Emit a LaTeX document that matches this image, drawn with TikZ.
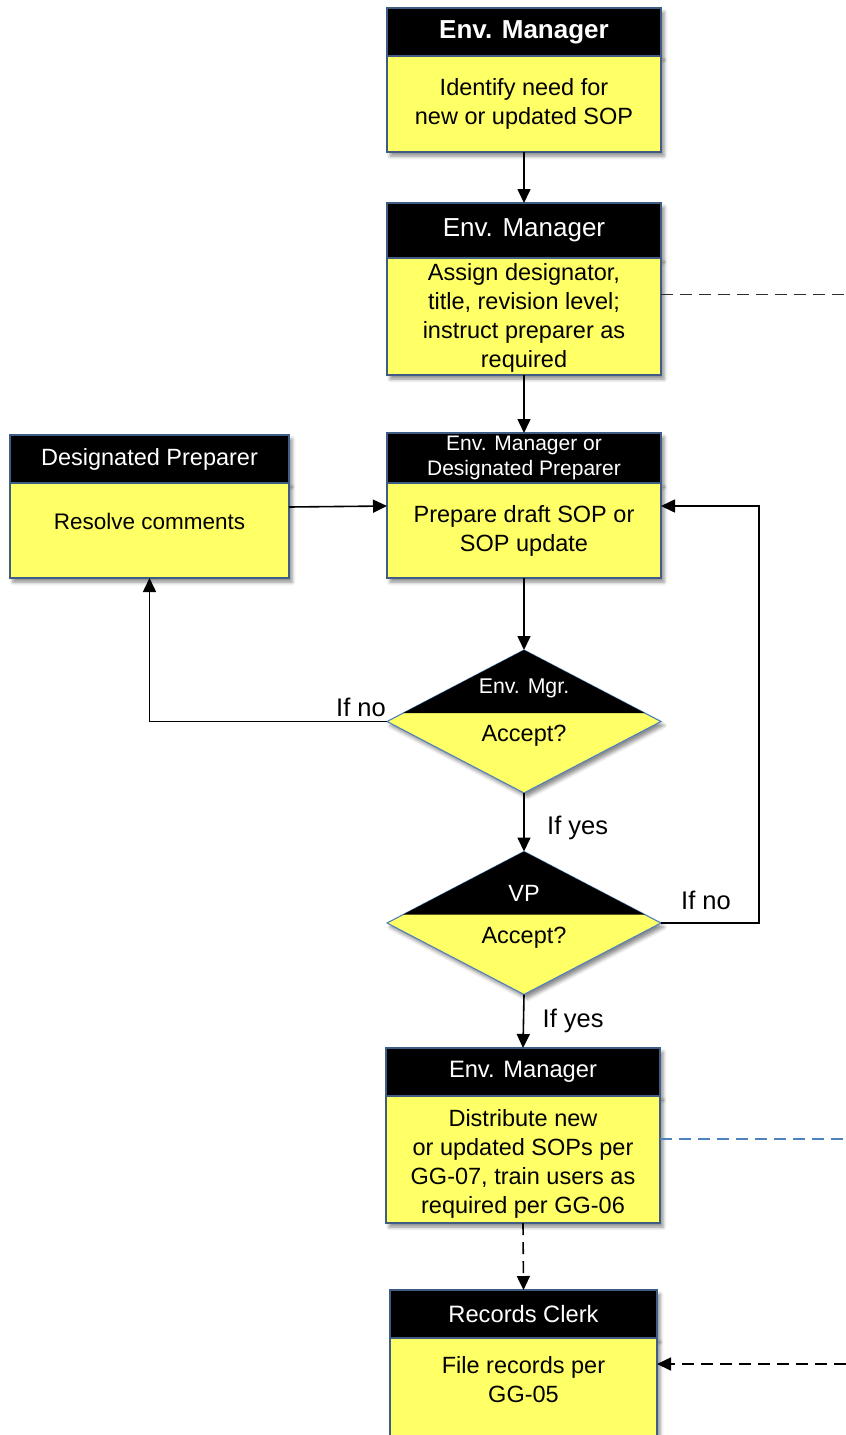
\documentclass[tikz,border=0pt]{standalone}
\usepackage{fontspec}
\setmainfont{Liberation Sans}
\usetikzlibrary{shapes.geometric,arrows.meta,calc,shadows.blur}

\definecolor{boxyellow}{RGB}{255,255,102}
\definecolor{boxedge}{RGB}{62,92,132}
\definecolor{linkblue}{RGB}{79,129,189}
\definecolor{dashgray}{RGB}{45,45,45}

\tikzset{
  softshadow/.style={blur shadow={shadow xshift=3pt, shadow yshift=-4pt,
      shadow blur radius=3.5pt, shadow opacity=45}},
  hdr/.style={draw=boxedge, fill=black, text=white, line width=1.1pt,
      inner sep=0pt, outer sep=0pt, anchor=north west, align=center, softshadow},
  bodybox/.style={draw=boxedge, fill=boxyellow, line width=1.1pt,
      inner sep=0pt, outer sep=0pt, anchor=north west, align=center, softshadow,
      font=\fontsize{23.5}{29}\selectfont},
  bodytext/.style={inner sep=0pt, align=center, font=\fontsize{23.5}{29}\selectfont},
  dia/.style={shape=diamond, draw=linkblue, fill=boxyellow, line width=1.1pt,
      inner sep=0pt, outer sep=0pt, minimum width=274pt, minimum height=143pt, softshadow},
  diatext/.style={inner sep=0pt, font=\fontsize{23.5}{29}\selectfont},
  lbl/.style={inner sep=0pt, font=\fontsize{25.5}{29}\selectfont},
  flow/.style={line width=1.6pt, -{Triangle[length=14pt,width=13pt]}},
  dashln/.style={line width=1.6pt, dash pattern=on 12pt off 7pt},
}

\begin{document}
\begin{tikzpicture}[x=1pt,y=-1pt]
\useasboundingbox (0,0) rectangle (846,1435);

% --- Env. Manager: identify need
\node[hdr, minimum width=274pt, minimum height=48pt,
      font=\bfseries\fontsize{26}{30}\selectfont] (hA) at (387,8) {Env. Manager};
\node[bodybox, minimum width=274pt, minimum height=96pt] (A) at (hA.south west)
      {Identify need for\\new or updated SOP};

% --- Env. Manager: assign designator
\node[hdr, minimum width=274pt, minimum height=55pt,
      font=\fontsize{26}{30}\selectfont] (hB) at (387,203) {Env. Manager};
\node[bodybox, minimum width=274pt, minimum height=117pt] (B) at (hB.south west) {};
\node[bodytext] (Btxt) at ([yshift=-60pt]B.north)
      {Assign designator,\\title, revision level;\\instruct preparer as\\required};

% --- Prepare draft
\node[hdr, minimum width=274pt, minimum height=50pt,
      font=\fontsize{21}{25}\selectfont] (hC) at (387,433)
      {Env. Manager or\\Designated Preparer};
\node[bodybox, minimum width=274pt, minimum height=95pt] (C) at (hC.south west)
      {Prepare draft SOP or\\SOP update};

% --- Resolve comments
\node[hdr, minimum width=279pt, minimum height=48pt,
      font=\fontsize{23.5}{28}\selectfont] (hD) at (10,435) {Designated Preparer};
\node[bodybox, minimum width=279pt, minimum height=95pt] (D) at (hD.south west) {};
\node[bodytext, font=\fontsize{22.5}{28}\selectfont] (Dtxt) at ([yshift=-38pt]D.north)
      {Resolve comments};

% --- Decision: Env. Mgr.
\node[dia] (d1) at (524,721.5) {};
\fill[black] (d1.north) -- ($(d1.north)!0.881!(d1.west)$)
  -- ($(d1.north)!0.881!(d1.east)$) -- cycle;
\node[diatext, text=white, font=\fontsize{21.3}{25}\selectfont] (d1top)
      at ([yshift=33.5pt]d1.center) {Env. Mgr.};
\node[diatext] (d1bot) at ([yshift=-14.5pt]d1.center) {Accept?};

% --- Decision: VP
\node[dia] (d2) at (524,923) {};
\fill[black] (d2.north) -- ($(d2.north)!0.881!(d2.west)$)
  -- ($(d2.north)!0.881!(d2.east)$) -- cycle;
\node[diatext, text=white] (d2top) at ([yshift=30pt]d2.center) {VP};
\node[diatext] (d2bot) at ([yshift=-15pt]d2.center) {Accept?};

% --- Env. Manager: distribute
\node[hdr, minimum width=274pt, minimum height=48pt,
      font=\fontsize{23.7}{28}\selectfont] (hE) at (386,1048) {Env. Manager};
\node[bodybox, minimum width=274pt, minimum height=127pt] (E) at (hE.south west) {};
\node[bodytext] (Etxt) at ([yshift=-68pt]E.north)
      {Distribute new\\or updated SOPs per\\GG-07, train users as\\required per GG-06};

% --- Records Clerk
\node[hdr, minimum width=267pt, minimum height=48pt,
      font=\fontsize{23.7}{28}\selectfont] (hF) at (390,1290) {Records Clerk};
\node[bodybox, minimum width=267pt, minimum height=125pt] (F) at (hF.south west) {};
\node[bodytext] (Ftxt) at ([yshift=-42pt]F.north) {File records per\\GG-05};

% --- free ends of the off-page links
\coordinate (outB) at (846,294.5);
\coordinate (outE) at (846,1139);
\coordinate (inF) at (846,1364);

% --- connectors
\draw[flow] (A.south) -- (hB.north);
\draw[flow] (B.south) -- (hC.north);
\draw[flow] ([yshift=-24pt]D.north east) -- ([yshift=-23pt]C.north west);
\draw[flow] (C.south) -- (d1.north);
\draw[flow] (d1.west) -| (D.south);
\draw[flow] (d1.south) -- (d2.north);
\draw[flow] (d2.east) -- ++(98,0) |- ([yshift=-23pt]C.north east);
\draw[flow] (d2.south) -- (hE.north);
\draw[flow, dashln] (E.south) -- (hF.north);
\draw[dashln, draw=dashgray] ([yshift=22pt]B.east) -- (outB);
\draw[dashln, draw=linkblue] ([yshift=20.5pt]E.east) -- (outE);
\draw[flow, dashln] (inF) -- ([yshift=-26pt]F.north east);

% --- branch labels
\node[lbl, anchor=base east] (no1) at ([xshift=-1pt,yshift=5pt]d1.west) {If no};
\node[lbl, anchor=west] (yes1) at ([xshift=23pt,yshift=-6pt]$(d1.south)!0.5!(d2.north)$) {If yes};
\node[lbl, anchor=base west] (no2) at ([xshift=20pt,yshift=14pt]d2.east) {If no};
\node[lbl, anchor=west] (yes2) at ([xshift=19pt]$(d2.south)!0.5!(hE.north)$) {If yes};
\end{tikzpicture}
\end{document}
